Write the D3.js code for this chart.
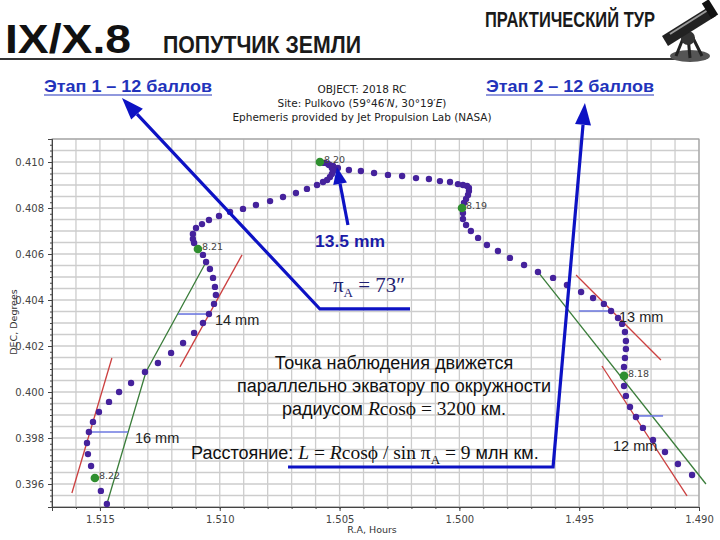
<!DOCTYPE html>
<html>
<head>
<meta charset="utf-8">
<script src="https://cdn.jsdelivr.net/npm/d3@7"></script>
<style>
  body { margin: 0; background: #fff; }
  svg { display: block; }
</style>
</head>
<body>
<svg id="chart" width="720" height="540"></svg>
<script>
// ephemeris of 2018 RC, in time order (R.A. hours / DEC degrees)
const ra = [1.49029, 1.49088, 1.49142, 1.49192, 1.49234, 1.49263, 1.49288, 1.49305, 1.49313,
  1.49313, 1.49309, 1.49305, 1.49305, 1.49309, 1.49321, 1.49338, 1.49367, 1.49397, 1.49442,
  1.49492, 1.49551, 1.49609, 1.49672, 1.49730, 1.49789, 1.49839, 1.49885, 1.49922, 1.49952,
  1.49972, 1.49985, 1.49985, 1.49981, 1.49972, 1.49964, 1.49960, 1.49960, 1.49968, 1.49985,
  1.50006, 1.50039, 1.50081, 1.50127, 1.50181, 1.50239, 1.50298, 1.50356, 1.50411, 1.50461,
  1.50507, 1.50527, 1.50548, 1.50565, 1.50561, 1.50544, 1.50532, 1.50527, 1.50532, 1.50540,
  1.50552, 1.50569, 1.50594, 1.50636, 1.50682, 1.50736, 1.50790, 1.50849, 1.50903, 1.50957,
  1.51003, 1.51045, 1.51074, 1.51099, 1.51112, 1.51112, 1.51107, 1.51070, 1.51057, 1.51041,
  1.51028, 1.51020, 1.51016, 1.51024, 1.51045, 1.51070, 1.51107, 1.51153, 1.51203, 1.51258,
  1.51312, 1.51370, 1.51420, 1.51462, 1.51504, 1.51529, 1.51546, 1.51554, 1.51550, 1.51537,
  1.51496, 1.51471];
const dec = [0.39639, 0.39687, 0.39739, 0.39791, 0.39844, 0.39891, 0.39935, 0.39983, 0.40026,
  0.40109, 0.40148, 0.40187, 0.40222, 0.40261, 0.40296, 0.40322, 0.40352, 0.40383, 0.40409,
  0.40435, 0.40465, 0.40496, 0.40522, 0.40552, 0.40583, 0.40613, 0.40639, 0.40670, 0.40700,
  0.40726, 0.40752, 0.40778, 0.40822, 0.40839, 0.40857, 0.40874, 0.40887, 0.40896, 0.40900,
  0.40904, 0.40913, 0.40917, 0.40926, 0.40930, 0.40939, 0.40944, 0.40952, 0.40961, 0.40965,
  0.40974, 0.40983, 0.40991, 0.40996, 0.40996, 0.40987, 0.40974, 0.40961, 0.40948, 0.40935,
  0.40922, 0.40913, 0.40900, 0.40883, 0.40865, 0.40848, 0.40830, 0.40813, 0.40796, 0.40783,
  0.40765, 0.40748, 0.40730, 0.40713, 0.40687, 0.40665, 0.40648, 0.40596, 0.40565, 0.40535,
  0.40496, 0.40457, 0.40422, 0.40383, 0.40339, 0.40300, 0.40257, 0.40213, 0.40170, 0.40126,
  0.40087, 0.40039, 0.40000, 0.39957, 0.39913, 0.39870, 0.39826, 0.39778, 0.39730, 0.39678,
  0.39570, 0.39513];

// midnight positions
const dayLabels = ["8.18", "8.19", "8.20", "8.21", "8.22"];
const dayRa = [1.49313, 1.49989, 1.50582, 1.51091, 1.51521];
const dayDec = [0.40070, 0.40800, 0.41000, 0.40622, 0.39626];

const xTicks = [1.515, 1.510, 1.505, 1.500, 1.495, 1.490];
const yTicks = [0.396, 0.398, 0.400, 0.402, 0.404, 0.406, 0.408, 0.410];

// envelope lines drawn on the plot (RA, DEC pairs)
const redLines = [
  [[1.51617, 0.39561], [1.51450, 0.40148]],
  [[1.51166, 0.40109], [1.50907, 0.40596]],
  [[1.49513, 0.40509], [1.49159, 0.40139]],
  [[1.49405, 0.40113], [1.49050, 0.39548]]
];
const greenLines = [
  [[1.51471, 0.39513], [1.51308, 0.40087], [1.51057, 0.40565]],
  [[1.49672, 0.40522], [1.48971, 0.39600]]
];

// widths of the daily loop
const widthLabels = ["16 mm", "14 mm", "13 mm", "12 mm"];
const widthRaFrom = [1.51550, 1.51174, 1.49501, 1.49263];
const widthRaTo = [1.51383, 1.51041, 1.49363, 1.49150];
const widthDec = [0.39826, 0.40339, 0.40352, 0.39896];

// blue pointer arrows (RA, DEC)
const arrowStage1 = [[1.50206, 0.40361], [1.50582, 0.40361], [1.51408, 0.41278]];
const arrowStage2 = [[1.50715, 0.39674], [1.49609, 0.39674], [1.49476, 0.41257]];
const arrowShift = [[1.50465, 0.40726], [1.50511, 0.40978]];

const svg = d3.select("#chart");
const serif = "'Liberation Serif', 'DejaVu Serif', serif";
const sans = "'Liberation Sans', Arial, sans-serif";
const narrow = "'Liberation Sans Narrow', 'Liberation Sans', Arial, sans-serif";
const mpl = "'DejaVu Sans', sans-serif";

const x = d3.scaleLinear().domain([1.517, 1.490]).range([52, 699]);
const y = d3.scaleLinear().domain([0.395, 0.411]).range([507, 139]);

// ---- header of the slide
svg.append("text").attr("x", 5).attr("y", 53)
  .attr("font-family", narrow).attr("font-weight", "bold").attr("font-size", 40)
  .attr("textLength", 126).attr("lengthAdjust", "spacingAndGlyphs")
  .attr("fill", "#111").text("IX/X.8");
svg.append("text").attr("x", 163).attr("y", 53)
  .attr("font-family", narrow).attr("font-weight", "bold").attr("font-size", 24)
  .attr("textLength", 198).attr("lengthAdjust", "spacingAndGlyphs")
  .attr("fill", "#1a1a1a").text("ПОПУТЧИК ЗЕМЛИ");
svg.append("text").attr("x", 485).attr("y", 27)
  .attr("font-family", narrow).attr("font-weight", "bold").attr("font-size", 22)
  .attr("textLength", 170).attr("lengthAdjust", "spacingAndGlyphs")
  .attr("fill", "#1a1a1a").text("ПРАКТИЧЕСКИЙ ТУР");
svg.append("line").attr("x1", 0).attr("x2", 690).attr("y1", 59).attr("y2", 59)
  .attr("stroke", "#333").attr("stroke-width", 2);

// small telescope picture in the corner
const scope = svg.append("g").attr("transform", "translate(688,32)");
scope.append("ellipse").attr("cx", 2).attr("cy", 24).attr("rx", 20).attr("ry", 6).attr("fill", "#555");
scope.append("path").attr("d", "M-4,4 L-12,24 M4,4 L14,24 M0,4 L2,26")
  .attr("stroke", "#222").attr("stroke-width", 3);
scope.append("circle").attr("cx", 0).attr("cy", 6).attr("r", 7).attr("fill", "#333");
scope.append("path").attr("d", "M-26,4 L22,-26 L28,-16 L-20,14 Z").attr("fill", "#222");
scope.append("path").attr("d", "M-18,2 L20,-22").attr("stroke", "#999").attr("stroke-width", 2);
scope.append("rect").attr("x", 18).attr("y", -32).attr("width", 8).attr("height", 18)
  .attr("transform", "rotate(-32,22,-23)").attr("fill", "#111");

// stage links
[["Этап 1 – 12 баллов", 44], ["Этап 2 – 12 баллов", 486]].forEach(([t, x0]) => {
  svg.append("text").attr("x", x0).attr("y", 92)
    .attr("font-family", narrow).attr("font-weight", "bold").attr("font-size", 17)
    .attr("textLength", 168).attr("lengthAdjust", "spacingAndGlyphs")
    .attr("fill", "#2233bb").text(t);
  svg.append("line").attr("x1", x0).attr("x2", x0 + 168).attr("y1", 95).attr("y2", 95)
    .attr("stroke", "#2233bb").attr("stroke-width", 1.2);
});

// chart titles
const title = svg.append("g").attr("font-family", mpl).attr("font-size", 10.5)
  .attr("fill", "#222").attr("text-anchor", "middle");
title.append("text").attr("x", 362).attr("y", 93).text("OBJECT: 2018 RC");
const site = title.append("text").attr("x", 362).attr("y", 107);
site.append("tspan").text("Site: Pulkovo (59°46′");
site.append("tspan").attr("font-style", "italic").text("N");
site.append("tspan").text(",  30°19′");
site.append("tspan").attr("font-style", "italic").text("E");
site.append("tspan").text(")");
title.append("text").attr("x", 362).attr("y", 121).text("Ephemeris provided by Jet Propulsion Lab (NASA)");

// ---- plot area
const gxVals = d3.range(0, 28).map(i => 1.490 + i * 0.001);
const gyVals = d3.range(0, 33).map(i => 0.395 + i * 0.0005);

const grid = svg.append("g").attr("stroke", "#cdcdcd").attr("stroke-width", 1.3);
grid.selectAll("line.v").data(gxVals).join("line").attr("class", "v")
  .attr("x1", d => x(d)).attr("x2", d => x(d))
  .attr("y1", y.range()[0]).attr("y2", y.range()[1]);
grid.selectAll("line.h").data(gyVals).join("line").attr("class", "h")
  .attr("y1", d => y(d)).attr("y2", d => y(d))
  .attr("x1", x.range()[0]).attr("x2", x.range()[1]);

svg.append("rect")
  .attr("x", x.range()[0]).attr("y", y.range()[1])
  .attr("width", x.range()[1] - x.range()[0]).attr("height", y.range()[0] - y.range()[1])
  .attr("fill", "none").attr("stroke", "#999");

const xAxis = svg.append("g").attr("transform", `translate(0,${y.range()[0]})`)
  .call(d3.axisBottom(x).tickValues(xTicks).tickFormat(d3.format(".3f")).tickSize(4).tickPadding(5));
svg.append("g").attr("transform", `translate(0,${y.range()[0]})`)
  .call(d3.axisBottom(x).tickValues(gxVals).tickFormat("").tickSize(2));
const yAxis = svg.append("g").attr("transform", `translate(${x.range()[0]},0)`)
  .call(d3.axisLeft(y).tickValues(yTicks).tickFormat(d3.format(".3f")).tickSize(4).tickPadding(4));
svg.append("g").attr("transform", `translate(${x.range()[0]},0)`)
  .call(d3.axisLeft(y).tickValues(d3.range(0, 65).map(i => 0.395 + i * 0.00025)).tickFormat("").tickSize(2));
svg.selectAll(".domain").attr("stroke", "#444");
svg.selectAll(".tick line").attr("stroke", "#444");
[xAxis, yAxis].forEach(a => a.selectAll("text")
  .attr("font-family", mpl).attr("font-size", 10).attr("fill", "#444"));

svg.append("text").attr("x", 372).attr("y", 533).attr("text-anchor", "middle")
  .attr("font-family", mpl).attr("font-size", 9.5).attr("fill", "#333").text("R.A, Hours");
svg.append("text").attr("transform", "translate(17,322) rotate(-90)").attr("text-anchor", "middle")
  .attr("font-family", mpl).attr("font-size", 9.5).attr("fill", "#333").text("DEC, Degrees");

// ---- envelope lines and widths
const line = d3.line().x(d => x(d[0])).y(d => y(d[1]));
svg.append("g").selectAll("path").data(greenLines).join("path")
  .attr("d", line).attr("fill", "none").attr("stroke", "#3a7d3a").attr("stroke-width", 1.3);
svg.append("g").selectAll("path").data(redLines).join("path")
  .attr("d", line).attr("fill", "none").attr("stroke", "#cc4040").attr("stroke-width", 1.3);
svg.append("g").selectAll("line").data(widthLabels).join("line")
  .attr("x1", (d, i) => x(widthRaFrom[i])).attr("x2", (d, i) => x(widthRaTo[i]))
  .attr("y1", (d, i) => y(widthDec[i])).attr("y2", (d, i) => y(widthDec[i]))
  .attr("stroke", "#6d78e0").attr("stroke-width", 1.6);

// ---- trajectory
const pts = ra.map((r, i) => ({ r, d: dec[i] }));
svg.append("g").selectAll("circle").data(pts).join("circle")
  .attr("cx", d => x(d.r)).attr("cy", d => y(d.d)).attr("r", 3.2).attr("fill", "#45229c");
const days = dayLabels.map((t, i) => ({ t, r: dayRa[i], d: dayDec[i] }));
svg.append("g").selectAll("circle").data(days).join("circle")
  .attr("cx", d => x(d.r)).attr("cy", d => y(d.d)).attr("r", 4.3).attr("fill", "#2f8f2f");
svg.append("g").selectAll("text").data(days).join("text")
  .attr("x", d => x(d.r) + 4).attr("y", d => y(d.d) + 1)
  .attr("font-family", mpl).attr("font-size", 9.5).attr("fill", "#444").text(d => d.t);

// width labels: to the right of the short lines, except the 12 mm one below-left
const wl = svg.append("g").attr("font-family", sans).attr("font-size", 14.5).attr("fill", "#222");
widthLabels.forEach((t, i) => {
  const below = i === 3;
  wl.append("text")
    .attr("x", below ? x(widthRaFrom[i]) - 23 : x(widthRaTo[i]) + (i === 1 ? 5 : 7))
    .attr("y", y(widthDec[i]) + (below ? 35 : 11))
    .text(t);
});

// ---- blue pointer arrows
function arrow(points, w, head, half, color) {
  const p = points.map(d => [x(d[0]), y(d[1])]);
  const [a, b] = p.slice(-2);
  const ang = Math.atan2(b[1] - a[1], b[0] - a[0]);
  const base = [b[0] - head * Math.cos(ang), b[1] - head * Math.sin(ang)];
  const body = p.slice(0, -1).concat([base]);
  svg.append("path").attr("d", d3.line()(body))
    .attr("fill", "none").attr("stroke", color).attr("stroke-width", w).attr("stroke-linejoin", "miter");
  const n = [-Math.sin(ang), Math.cos(ang)];
  svg.append("path").attr("d", d3.line()([b,
      [base[0] + n[0] * half, base[1] + n[1] * half],
      [base[0] - n[0] * half, base[1] - n[1] * half]]) + "Z")
    .attr("fill", color);
}
arrow(arrowStage1, 3.2, 22, 8, "#0d12c4");
arrow(arrowStage2, 3.2, 22, 8, "#0d12c4");
arrow(arrowShift, 3.2, 17, 7, "#0d12c4");

svg.append("text").attr("x", 315).attr("y", 247)
  .attr("font-family", sans).attr("font-weight", "bold").attr("font-size", 16.5)
  .attr("textLength", 70).attr("lengthAdjust", "spacingAndGlyphs")
  .attr("fill", "#1b1ba6").text("13.5 mm");

const pa = svg.append("text").attr("x", 333).attr("y", 292)
  .attr("font-family", serif).attr("font-size", 21).attr("fill", "#1e2070");
pa.append("tspan").text("π");
pa.append("tspan").attr("font-size", 13).attr("dy", 5).text("A");
pa.append("tspan").attr("dy", -5).text(" = 73″");

// ---- explanation text
const note = svg.append("g").attr("font-family", sans).attr("font-size", 18)
  .attr("fill", "#111").attr("text-anchor", "middle");
note.append("text").attr("x", 394).attr("y", 369).text("Точка наблюдения движется");
note.append("text").attr("x", 394).attr("y", 392).text("параллельно экватору по окружности");
const r3 = note.append("text").attr("x", 394).attr("y", 415);
r3.append("tspan").text("радиусом ");
r3.append("tspan").attr("font-family", serif).attr("font-style", "italic").attr("font-size", 19.5).text("R");
r3.append("tspan").attr("font-family", serif).attr("font-size", 19.5).text("cosϕ = 3200");
r3.append("tspan").text(" км.");
const r4 = svg.append("text").attr("x", 191).attr("y", 459)
  .attr("font-family", sans).attr("font-size", 18).attr("fill", "#111");
r4.append("tspan").text("Расстояние: ");
r4.append("tspan").attr("font-family", serif).attr("font-style", "italic").attr("font-size", 19.5).text("L");
r4.append("tspan").attr("font-family", serif).attr("font-size", 19.5).text(" = ");
r4.append("tspan").attr("font-family", serif).attr("font-style", "italic").attr("font-size", 19.5).text("R");
r4.append("tspan").attr("font-family", serif).attr("font-size", 19.5).text("cosϕ / sin π");
r4.append("tspan").attr("font-family", serif).attr("font-size", 13).attr("dy", 5).text("A");
r4.append("tspan").attr("font-family", serif).attr("font-size", 19.5).attr("dy", -5).text(" = 9");
r4.append("tspan").text(" млн км.");
</script>
</body>
</html>
